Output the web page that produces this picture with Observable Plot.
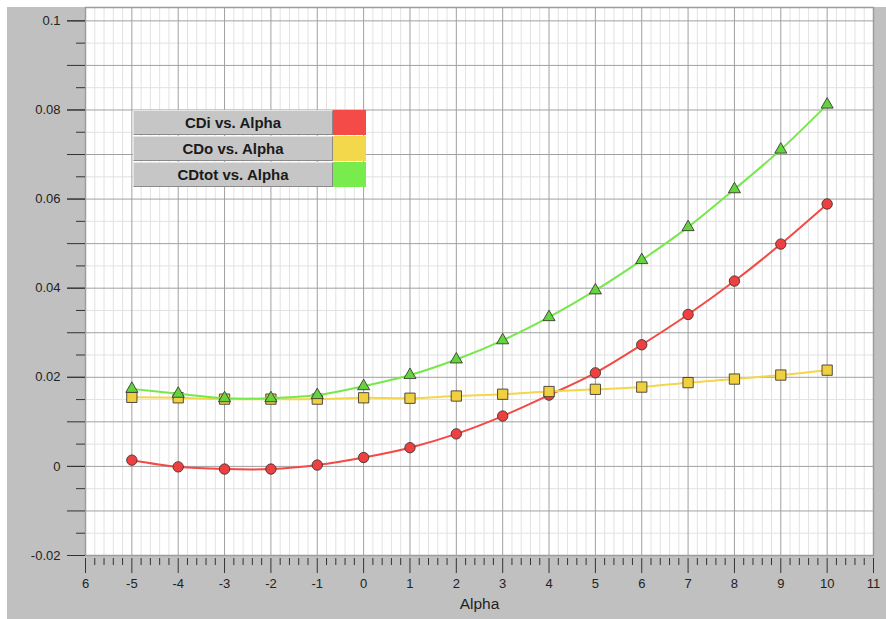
<!DOCTYPE html>
<html>
<head>
<meta charset="utf-8">
<script src="https://cdn.jsdelivr.net/npm/d3@7"></script>
<script src="https://cdn.jsdelivr.net/npm/@observablehq/plot@0.6"></script>
<style>
  html, body { margin: 0; padding: 0; background: #fff; }
  body { font-family: "Liberation Sans", Arial, sans-serif; }
  #wrap { position: relative; width: 886px; height: 619px; overflow: hidden; }
  #wrap svg { display: block; background: linear-gradient(#c0c0c0, #c0c0c0) 7px 7px / 879px 612px no-repeat, #fff; }
  .legend { position: absolute; left: 133px; top: 110px; width: 233px; }
  .row { display: flex; height: 25px; margin-bottom: 1px; }
  .btn { box-sizing: border-box; width: 200px; height: 25px; background: #c6c6c6;
         border-top: 1px solid #e4e4e4; border-left: 1px solid #e4e4e4;
         border-bottom: 1px solid #8a8a8a; border-right: 1px solid #8a8a8a;
         font: bold 15px "Liberation Sans", Arial, sans-serif; color: #1a1a1a;
         display: flex; align-items: center; justify-content: center; }
  .sw { width: 33px; height: 25px; }
</style>
</head>
<body>
<div id="wrap"></div>
<script>
// ---- data ----
const alpha = [-5, -4, -3, -2, -1, 0, 1, 2, 3, 4, 5, 6, 7, 8, 9, 10];
const cdi   = [0.0014, -0.0001, -0.0006, -0.0006, 0.0003, 0.0020, 0.0042, 0.0073, 0.0113, 0.0160, 0.0210, 0.0273, 0.0341, 0.0416, 0.0499, 0.0589];
const cdo   = [0.0155, 0.0154, 0.0151, 0.0151, 0.0151, 0.0154, 0.0153, 0.0158, 0.0162, 0.0168, 0.0173, 0.0178, 0.0188, 0.0196, 0.0205, 0.0216];
const cdtot = [0.0174, 0.0163, 0.0153, 0.0153, 0.0160, 0.0180, 0.0205, 0.0240, 0.0283, 0.0335, 0.0395, 0.0463, 0.0537, 0.0622, 0.0711, 0.0812];

const seriesNames = ["CDi vs. Alpha", "CDo vs. Alpha", "CDtot vs. Alpha"];
const lineColors  = ["#f24a46", "#f3d64a", "#76e84c"];
const fillColors  = ["#ee4040", "#f0d040", "#62d43e"];
const symbols     = ["circle", "square", "triangle"];
const symbolR     = [5.2, 5.8, 4.5];

const xTickValues = [-6, -5, -4, -3, -2, -1, 0, 1, 2, 3, 4, 5, 6, 7, 8, 9, 10, 11];
const xTickLabels = ["6", "-5", "-4", "-3", "-2", "-1", "0", "1", "2", "3", "4", "5", "6", "7", "8", "9", "10", "11"];
const yLabelTicks = [-0.02, 0, 0.02, 0.04, 0.06, 0.08, 0.1];
const yTickLabels = ["-0.02", "0", "0.02", "0.04", "0.06", "0.08", "0.1"];
const xAxisTitle  = "Alpha";
const xMinor = d3.range(-30, 56).map(i => i / 5).filter(v => !Number.isInteger(v));
const yMajor = d3.range(-2, 11).map(i => i / 100);
const yMinor = d3.range(-4, 21).filter(i => i % 2 !== 0).map(i => i / 200);

// ---- build table ----
const values = [cdi, cdo, cdtot];
const series = seriesNames.map((name, s) => alpha.map((a, i) => ({alpha: a, value: values[s][i], name})));

const lineMarks = series.flatMap((rows, s) => [
  Plot.line(rows, {x: "alpha", y: "value", stroke: lineColors[s], strokeWidth: 2, curve: "catmull-rom"}),
  Plot.dot(rows, {x: "alpha", y: "value", symbol: () => symbols[s], r: symbolR[s],
    fill: fillColors[s], stroke: "#3a3030", strokeWidth: 1, strokeOpacity: 0.85})
]);

const xLabel = new Map(xTickValues.map((v, i) => [v, xTickLabels[i]]));
const yLabel = new Map(yLabelTicks.map((v, i) => [v, yTickLabels[i]]));

const chart = Plot.plot({
  width: 886,
  height: 619,
  marginLeft: 85,
  marginRight: 13,
  marginTop: 7,
  marginBottom: 64,
  style: {fontFamily: "'Liberation Sans', Arial, sans-serif", fontSize: "13px", color: "#222", overflow: "visible"},
  x: {domain: [-6, 11]},
  y: {domain: [-0.02, 0.103]},
  symbol: {type: "identity"},
  marks: [
    Plot.frame({fill: "white", stroke: null}),
    Plot.ruleX(xMinor, {stroke: "#e2e2e2", strokeWidth: 1}),
    Plot.ruleY(yMinor, {stroke: "#e2e2e2", strokeWidth: 1}),
    Plot.ruleX(xTickValues, {stroke: "#a0a0a0", strokeWidth: 1}),
    Plot.ruleY(yMajor, {stroke: "#a0a0a0", strokeWidth: 1}),
    Plot.frame({stroke: "#9c9c9c", strokeWidth: 1.5}),
    // y axis
    Plot.axisY(yMinor, {tickSize: 9, tickFormat: () => "", label: null, stroke: "#333"}),
    Plot.axisY(yMajor, {tickSize: 18, tickFormat: () => "", label: null, stroke: "#333"}),
    Plot.axisY(yLabelTicks, {tickSize: 18, tickPadding: 7, tickFormat: d => yLabel.get(d), label: null,
      stroke: "#333", fill: "#222", fontSize: 13}),
    // x axis
    Plot.axisX(xMinor, {tickSize: 7, dy: 3, tickFormat: () => "", label: null, stroke: "#333"}),
    Plot.axisX(xTickValues, {tickSize: 15, dy: 3, tickPadding: 5, tickFormat: d => xLabel.get(d),
      stroke: "#333", fill: "#222", fontSize: 13, label: null}),
    Plot.text([xAxisTitle], {frameAnchor: "bottom", dy: 49, fontSize: 15.5, fill: "#222", lineAnchor: "middle"}),
    ...lineMarks
  ]
});

const wrap = document.getElementById("wrap");
wrap.appendChild(chart);

// ---- legend ----
const legend = document.createElement("div");
legend.className = "legend";
seriesNames.forEach((name, i) => {
  const row = document.createElement("div");
  row.className = "row";
  const b = document.createElement("div");
  b.className = "btn";
  b.textContent = name;
  const sw = document.createElement("div");
  sw.className = "sw";
  sw.style.background = ["#f44a48", "#f4d84c", "#78ec4c"][i];
  row.appendChild(b);
  row.appendChild(sw);
  legend.appendChild(row);
});
wrap.appendChild(legend);
</script>
</body>
</html>
